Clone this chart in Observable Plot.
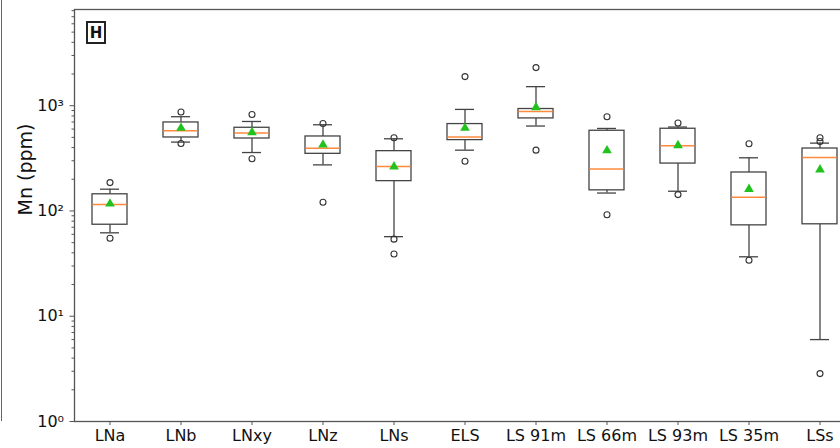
<!DOCTYPE html>
<html><head><meta charset="utf-8">
<script src="https://cdn.jsdelivr.net/npm/d3@7"></script>
<script src="https://cdn.jsdelivr.net/npm/@observablehq/plot@0.6"></script>
<style>
html,body{margin:0;padding:0;background:#fff;overflow:hidden;width:840px;height:448px;}
#wrap{position:relative;width:840px;height:448px;overflow:hidden;}
#chart{position:absolute;left:0;top:0;width:856px;}
#chart svg{max-width:none !important;}
#edge{position:absolute;left:1px;top:0;width:0;height:421px;border-left:1.5px solid #666;}
#tag{position:absolute;left:86px;top:21px;width:16px;height:19px;border:2px solid #222;font:bold 15px "DejaVu Sans",sans-serif;text-align:center;line-height:20px;color:#111;}
</style></head><body>
<div id="wrap"><div id="edge"></div><div id="chart"></div><div id="tag">H</div></div>
<script>
const categories = ["LNa","LNb","LNxy","LNz","LNs","ELS","LS 91m","LS 66m","LS 93m","LS 35m","LSs"];
const whiskerLo = [62, 451, 359, 274, 57, 378, 641, 148, 154, 36.7, 6.0];
const q1        = [74, 499, 488, 349, 192, 471, 757, 157, 282, 73, 74.7];
const median    = [115, 578, 550, 395, 264, 503, 883, 251, 416, 135, 322];
const q3        = [144, 693, 617, 510, 370, 669, 930, 578, 604, 232, 392];
const whiskerHi = [161, 786, 708, 659, 485, 922, 1517, 608, 627, 320, 441];
const means     = [117, 613, 557, 425, 264, 613, 964, 375, 419, 161, 247];
const outlierCats   = ["LNa","LNa","LNb","LNb","LNxy","LNxy","LNz","LNz","LNs","LNs","LNs","ELS","ELS","LS 91m","LS 91m","LS 66m","LS 66m","LS 93m","LS 93m","LS 35m","LS 35m","LSs","LSs","LSs"];
const outlierValues = [186, 55, 871, 437, 826, 313, 678, 121, 496, 54, 39, 1890, 297, 2300, 378, 786, 92, 684, 143, 435, 34, 496, 457, 2.85];
const majorTicks = [1, 10, 100, 1000];
const majorLabels = ["10\u2070", "10\u00b9", "10\u00b2", "10\u00b3"];

const boxes = categories.map((c, i) => ({cat: c, lo: whiskerLo[i], q1: q1[i], med: median[i], q3: q3[i], hi: whiskerHi[i], mean: means[i]}));
const outliers = outlierCats.map((c, i) => ({cat: c, v: outlierValues[i]}));
const minorTicks = [];
for (const d of [1, 10, 100, 1000]) for (let k = 2; k <= 9; k++) if (d * k <= 8200) minorTicks.push(d * k);

const line = "#444";
const chart = Plot.plot({
  width: 856, height: 448,
  marginLeft: 74, marginRight: 1, marginTop: 9, marginBottom: 27,
  style: {fontFamily: "'DejaVu Sans', sans-serif", fontSize: "16px", color: "#111", background: "transparent", maxWidth: "none", overflow: "visible"},
  x: {domain: categories, padding: 0, axis: null},
  y: {type: "log", domain: [1, 8200], axis: null},
  marks: [
    Plot.ruleX(boxes, {x: "cat", y1: "lo", y2: "q1", stroke: line, strokeWidth: 1.3}),
    Plot.ruleX(boxes, {x: "cat", y1: "q3", y2: "hi", stroke: line, strokeWidth: 1.3}),
    Plot.tickY(boxes, {x: "cat", y: "lo", stroke: line, strokeWidth: 1.3, insetLeft: 26, insetRight: 26}),
    Plot.tickY(boxes, {x: "cat", y: "hi", stroke: line, strokeWidth: 1.3, insetLeft: 26, insetRight: 26}),
    Plot.barY(boxes, {x: "cat", y1: "q1", y2: "q3", fill: "white", stroke: line, strokeWidth: 1.3, insetLeft: 18, insetRight: 18}),
    Plot.tickY(boxes, {x: "cat", y: "med", stroke: "#ff8a3d", strokeWidth: 1.5, insetLeft: 18.5, insetRight: 18.5}),
    Plot.dot(outliers, {x: "cat", y: "v", r: 3, stroke: "#333", fill: "none", strokeWidth: 1.1}),
    Plot.dot(boxes, {x: "cat", y: "mean", symbol: "triangle", r: 3.6, fill: "#22c21e", stroke: "none"}),
    Plot.frame({stroke: "#555", strokeWidth: 1.3}),
    Plot.axisY(majorTicks, {tickSize: 4.5, tickPadding: 6, stroke: "#555", tickFormat: (d, i) => majorLabels[majorTicks.indexOf(d)], fontSize: 16, label: null}),
    Plot.axisY(minorTicks, {tickSize: 2.5, tickFormat: () => "", stroke: "#555", label: null}),
    Plot.axisX({tickSize: 4, tickPadding: 4, stroke: "#555", fontSize: 16, label: null}),
    Plot.text(["Mn (ppm)"], {frameAnchor: "left", dx: -49, rotate: -90, fontSize: 19, fill: "#111"})
  ]
});
document.getElementById("chart").appendChild(chart);
</script>
</body></html>
